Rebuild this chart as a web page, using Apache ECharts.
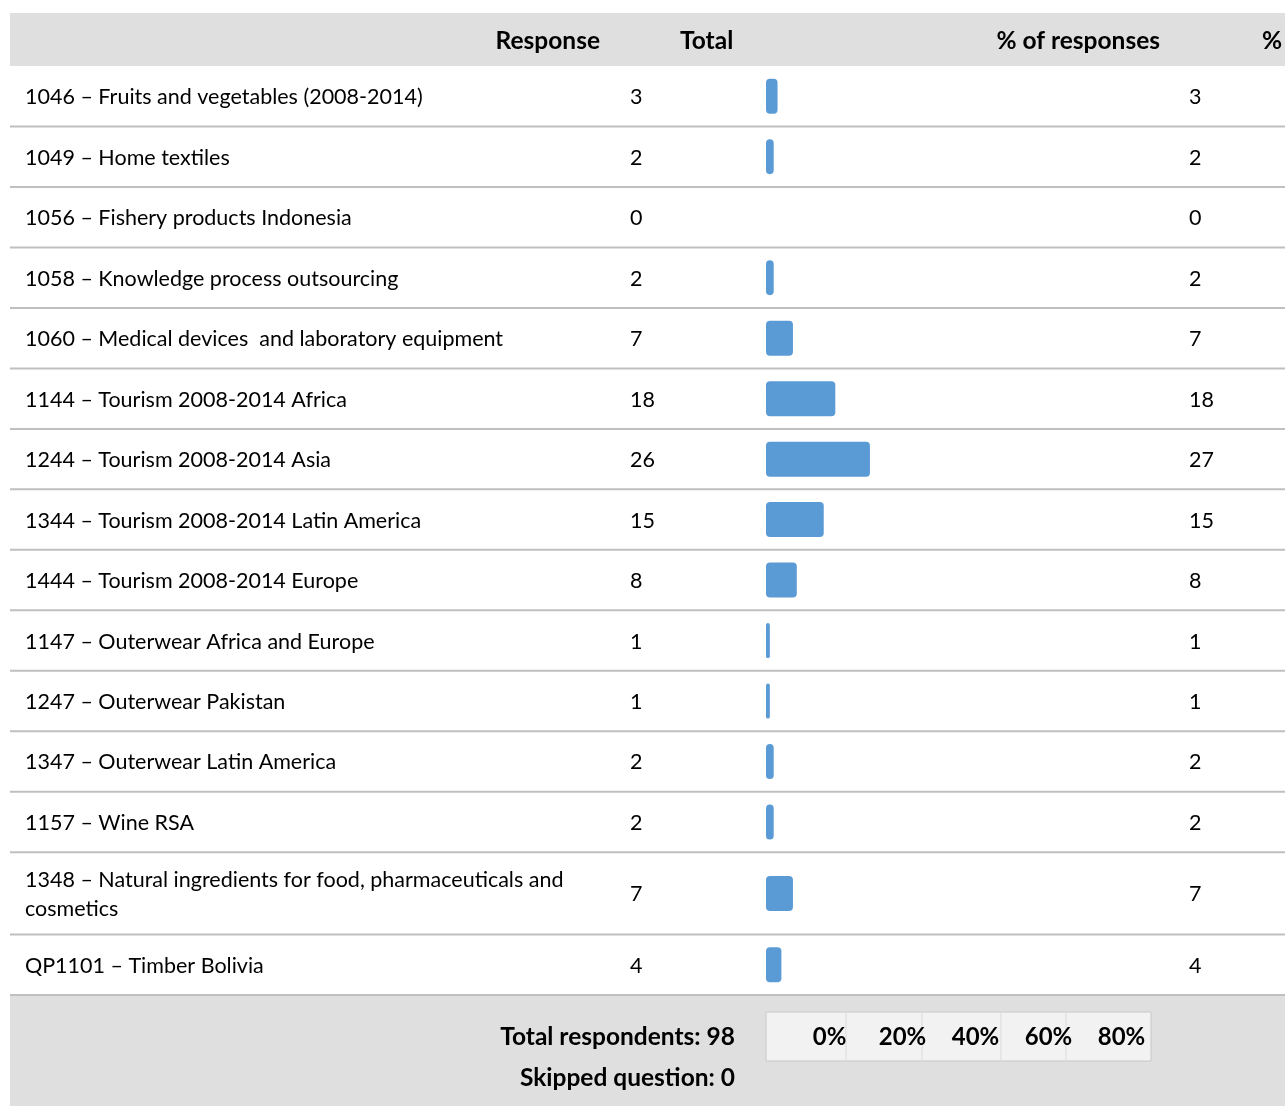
<!DOCTYPE html>
<html>

<head>
    <meta charset="UTF-8">
    <script src="https://cdn.jsdelivr.net/npm/echarts@6.0.0/dist/echarts.min.js"></script>
    <title>Response table</title>
    <style>
        html, body { margin: 0; padding: 0; background: #fff; }
        #box { width: 1285px; height: 1106px; }
    </style>
</head>

<body>
    <div id="box"></div>
    <script>
        // 数据
        const categories = [
            '1046 – Fruits and vegetables (2008-2014)',
            '1049 – Home textiles',
            '1056 – Fishery products Indonesia',
            '1058 – Knowledge process outsourcing',
            '1060 – Medical devices  and laboratory equipment',
            '1144 – Tourism 2008-2014 Africa',
            '1244 – Tourism 2008-2014 Asia',
            '1344 – Tourism 2008-2014 Latin America',
            '1444 – Tourism 2008-2014 Europe',
            '1147 – Outerwear Africa and Europe',
            '1247 – Outerwear Pakistan',
            '1347 – Outerwear Latin America',
            '1157 – Wine RSA',
            '1348 – Natural ingredients for food, pharmaceuticals and\ncosmetics',
            'QP1101 – Timber Bolivia'
        ]
        const totals = [3, 2, 0, 2, 7, 18, 26, 15, 8, 1, 1, 2, 2, 7, 4]
        const percents = [3, 2, 0, 2, 7, 18, 27, 15, 8, 1, 1, 2, 2, 7, 4]
        const tickLabels = ['0%', '20%', '40%', '60%', '80%']
        const totalRespondents = 98
        const skipped = 0

        const FONT = 'Lato, "Open Sans", sans-serif'
        const GRID = '#bfbfbf'
        const HEAD = '#dfdfdf'
        const BOLD = 'bold 24.5px ' + FONT

        // 每行高度（两行文字的行更高）
        let acc = 0
        const rows = categories.map(function (c, i) {
            const span = 1 + 0.36 * (c.split('\n').length - 1)
            const r = [percents[i], acc, acc + span, totals[i]]
            acc += span
            return r
        })

        var mychart = echarts.init(document.getElementById('box'))

        function renderRow(params, api) {
            const i = params.dataIndex
            const yTop = api.coord([0, api.value(1)])[1]
            const yBot = api.coord([0, api.value(2)])[1]
            const x0 = api.coord([0, 0])[0]
            const x1 = api.coord([api.value(0), 0])[0]
            const mid = (yTop + yBot) / 2 + 1
            const txt = { fill: '#000', font: '21.5px ' + FONT, verticalAlign: 'middle' }
            const children = [
                { type: 'line', shape: { x1: 10, y1: yBot, x2: 1285, y2: yBot }, style: { stroke: GRID, lineWidth: 2 } },
                { type: 'text', style: Object.assign({ text: categories[i], x: 25, y: mid, lineHeight: 29 }, txt) },
                { type: 'text', style: Object.assign({ text: String(api.value(3)), x: 630, y: mid }, txt) },
                { type: 'text', style: Object.assign({ text: String(api.value(0)), x: 1189, y: mid }, txt) }
            ]
            if (api.value(0) > 0) {
                children.push({
                    type: 'rect',
                    shape: { x: x0, y: mid - 18.5, width: x1 - x0, height: 35, r: Math.min(4, (x1 - x0) / 2) },
                    style: { fill: '#5b9bd5' }
                })
            }
            return { type: 'group', children: children }
        }

        var option = {
            animation: false,
            backgroundColor: '#fff',
            grid: [
                { left: 766, width: 385, top: 66, bottom: 111 },
                { left: 793, width: 365, top: 1012, bottom: 82 }
            ],
            xAxis: [
                { type: 'value', min: 0, max: 100, show: false },
                {
                    type: 'category', gridIndex: 1, data: tickLabels,
                    axisLine: { show: false }, axisTick: { show: false },
                    axisLabel: { margin: 0, color: '#000', fontFamily: FONT, fontSize: 24, fontWeight: 'bold', lineHeight: 26 }
                }
            ],
            yAxis: [
                { type: 'value', min: 0, max: acc, inverse: true, show: false },
                { type: 'value', gridIndex: 1, show: false }
            ],
            graphic: [
                // 表头
                { type: 'rect', z: -10, shape: { x: 10, y: 13, width: 1275, height: 53 }, style: { fill: HEAD } },
                { type: 'text', style: { text: 'Response', x: 600, y: 41, align: 'right', verticalAlign: 'middle', font: BOLD, fill: '#000' } },
                { type: 'text', style: { text: 'Total', x: 680, y: 41, verticalAlign: 'middle', font: BOLD, fill: '#000' } },
                { type: 'text', style: { text: '% of responses', x: 1160, y: 41, align: 'right', verticalAlign: 'middle', font: BOLD, fill: '#000' } },
                { type: 'text', style: { text: '%', x: 1262, y: 41, verticalAlign: 'middle', font: BOLD, fill: '#000' } },
                // 底部
                { type: 'rect', z: -10, shape: { x: 10, y: 995, width: 1275, height: 111 }, style: { fill: HEAD } },
                { type: 'line', z: -9, shape: { x1: 10, y1: 995, x2: 1285, y2: 995 }, style: { stroke: GRID, lineWidth: 2 } },
                { type: 'rect', z: -9, shape: { x: 766, y: 1012, width: 385, height: 49 }, style: { fill: '#f2f2f2', stroke: '#c8c8c8', lineWidth: 1 } },
                { type: 'line', z: -8, shape: { x1: 846, y1: 1012, x2: 846, y2: 1061 }, style: { stroke: '#dadada' } },
                { type: 'line', z: -8, shape: { x1: 922, y1: 1012, x2: 922, y2: 1061 }, style: { stroke: '#dadada' } },
                { type: 'line', z: -8, shape: { x1: 1001, y1: 1012, x2: 1001, y2: 1061 }, style: { stroke: '#dadada' } },
                { type: 'line', z: -8, shape: { x1: 1066, y1: 1012, x2: 1066, y2: 1061 }, style: { stroke: '#dadada' } },
                { type: 'text', style: { text: 'Total respondents: ' + totalRespondents, x: 735, y: 1037, align: 'right', verticalAlign: 'middle', font: BOLD, fill: '#000' } },
                { type: 'text', style: { text: 'Skipped question: ' + skipped, x: 735, y: 1078, align: 'right', verticalAlign: 'middle', font: BOLD, fill: '#000' } }
            ],
            series: [{
                type: 'custom',
                renderItem: renderRow,
                clip: false,
                encode: { x: 0, y: [1, 2] },
                data: rows
            }, {
                type: 'bar', xAxisIndex: 1, yAxisIndex: 1, data: [], silent: true
            }]
        }

        mychart.setOption(option)
    </script>
</body>

</html>
